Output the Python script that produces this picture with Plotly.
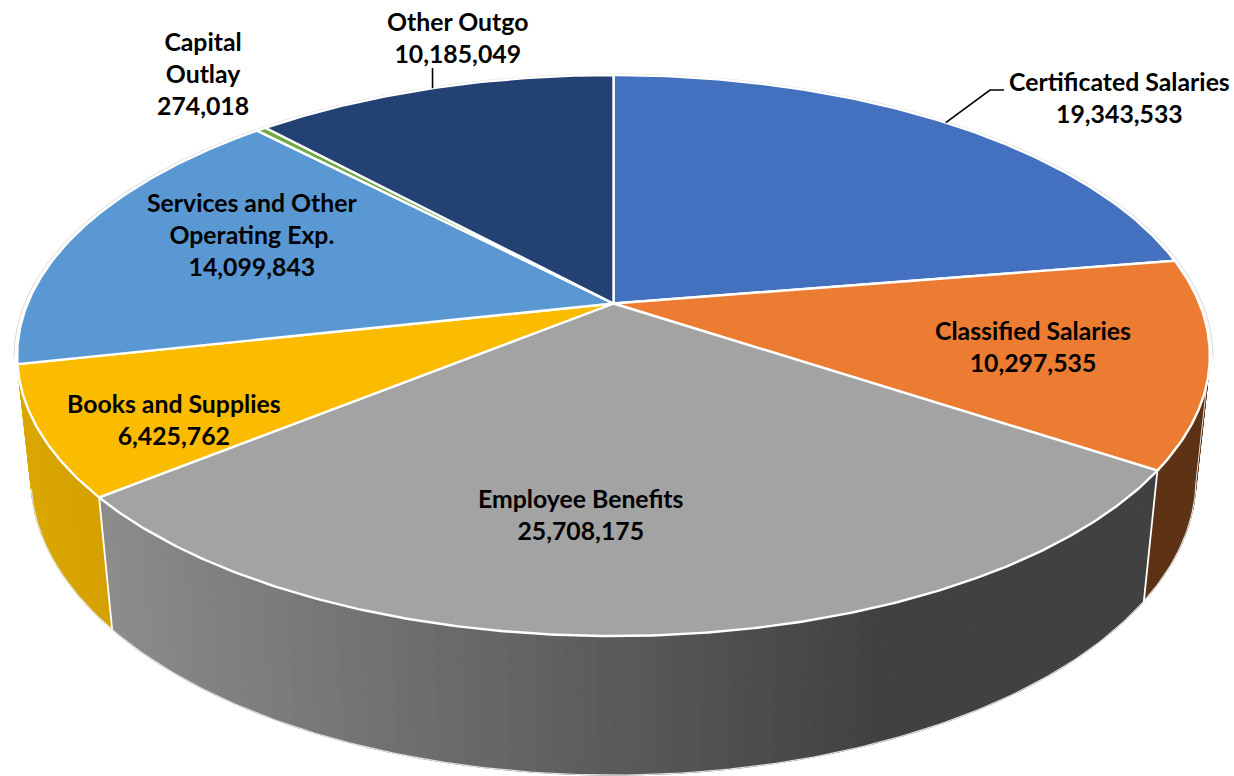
import numpy as np
import plotly.graph_objects as go

# Budget expenditure by category
categories = [
    "Certificated Salaries",
    "Classified Salaries",
    "Employee Benefits",
    "Books and Supplies",
    "Services and Other<br>Operating Exp.",
    "Capital<br>Outlay",
    "Other Outgo",
]
amounts = [19343533, 10297535, 25708175, 6425762, 14099843, 274018, 10185049]
top_colors = ["#4371C0", "#EB7C31", "#A3A3A3", "#FBBC00", "#5998D3", "#6FAA45", "#244174"]

# Canvas-unit camera for the tilted disc: a circle of radius 1 with depth z (0 top, 1 bottom)
CX, CY = 613.5, 303.5
SCALE_X, SCALE_Y = 586.0, 214.6
PERSP_V, PERSP_Z = 0.1854, 0.0229
DROP = 131.0
# Angle at which the rim turns from the back of the disc to its front
SILHOUETTE = 101.0


def project(theta_deg, z=0.0, r=1.0):
    t = np.radians(theta_deg)
    u, v = r * np.sin(t), r * np.cos(t)
    w = 1 + PERSP_V * v + PERSP_Z * z
    return CX + SCALE_X * u / w, (CY - SCALE_Y * v + DROP * z) / w


def mix(c0, c1, f):
    f = min(max(f, 0.0), 1.0)
    return "rgb(%d,%d,%d)" % tuple(round(a + (b - a) * f) for a, b in zip(c0, c1))


total = sum(amounts)
edges = np.concatenate([[0.0], np.cumsum(amounts) / total * 360.0])
fig = go.Figure()


def add_poly(xs, ys, fill, line, width):
    fig.add_trace(go.Scatter(
        x=xs, y=ys, mode="lines", fill="toself", fillcolor=fill,
        line=dict(color=line, width=width), hoverinfo="skip", showlegend=False,
    ))


def add_wall(start, stop, shade):
    """Side wall of a slice, split into narrow strips shaded by horizontal position."""
    ticks = np.linspace(start, stop, max(int((stop - start) / 1.2), 2) + 1)
    for a, b in zip(ticks[:-1], ticks[1:]):
        xa0, ya0 = project(a)
        xb0, yb0 = project(b)
        xa1, ya1 = project(a, 1)
        xb1, yb1 = project(b, 1)
        color = shade((xa0 + xb0 + xa1 + xb1) / 4)
        add_poly([xa0, xb0, xb1, xa1, xa0], [ya0, yb0, yb1, ya1, ya0], color, color, 1)


def add_line(xs, ys, color, width):
    fig.add_trace(go.Scatter(
        x=xs, y=ys, mode="lines", line=dict(color=color, width=width),
        hoverinfo="skip", showlegend=False,
    ))


# Side walls of the three front slices
add_wall(edges[1] - 30, edges[2], lambda x: "#5E3214")
add_wall(edges[2], edges[3], lambda x: mix((0x8C, 0x8C, 0x8C), (0x41, 0x41, 0x41), (x - 105) / 770))
add_wall(edges[3], edges[4], lambda x: mix((0xDA, 0xA8, 0x00), (0xD4, 0xA0, 0x00), (x - 20) / 90))

# Pale outline along the bottom rim and white seams between the walls
rim = np.linspace(SILHOUETTE, edges[4], 240)
rx, ry = zip(*[project(t, 1) for t in rim])
add_line(list(rx), list(ry), "#E0E0E0", 1.2)
ex, ey = zip(*[project(SILHOUETTE, z) for z in (0, 1)])
add_line(list(ex), list(ey), "#E0E0E0", 1)
for edge in (edges[2], edges[3]):
    sx, sy = zip(*[project(edge, z) for z in (0, 1)])
    add_line(list(sx), list(sy), "#FFFFFF", 1.8)

# Thin grey halo just outside the back of the top rim
halo = np.linspace(-SILHOUETTE, SILHOUETTE, 360)
hx, hy = zip(*[project(t, 0, 1.005) for t in halo])
add_line(list(hx), list(hy), "#DADADA", 1)

# Top face of every slice
for i, color in enumerate(top_colors):
    arc = np.linspace(edges[i], edges[i + 1], max(int(edges[i + 1] - edges[i]) * 2, 4))
    px, py = zip(*[project(t) for t in arc])
    add_poly([CX, *px, CX], [CY, *py, CY], color, "#FFFFFF", 2.4)

# Leader lines start at the middle of their slice's outer edge
cert_x, cert_y = project((edges[0] + edges[1]) / 2)
add_line([cert_x, 990, 1004], [cert_y, 90, 90], "#000000", 1.6)
outgo_x, outgo_y = project((edges[6] + edges[7]) / 2)
add_line([outgo_x, outgo_x], [outgo_y, 68], "#000000", 1.6)

# Data labels: name above value
label_centres = [(1119, 97.5), (1033, 346.5), (581, 514), (174, 419), (252, 234), (203, 73.5), (457, 37)]
for name, amount, (lx, ly) in zip(categories, amounts, label_centres):
    fig.add_annotation(
        x=lx, y=ly, xref="x", yref="y", text=f"<b>{name}<br>{amount:,}</b>",
        showarrow=False, align="center", xanchor="center", yanchor="middle",
        font=dict(family="Lato, Carlito, sans-serif", size=24.8, color="#000000"),
    )

fig.update_layout(
    width=1234, height=776, margin=dict(l=0, r=0, t=0, b=0),
    paper_bgcolor="#FFFFFF", plot_bgcolor="#FFFFFF", showlegend=False,
    xaxis=dict(range=[0, 1234], visible=False, fixedrange=True),
    yaxis=dict(range=[776, 0], visible=False, fixedrange=True),
)
fig.write_html("out.html", config=dict(displayModeBar=False))
